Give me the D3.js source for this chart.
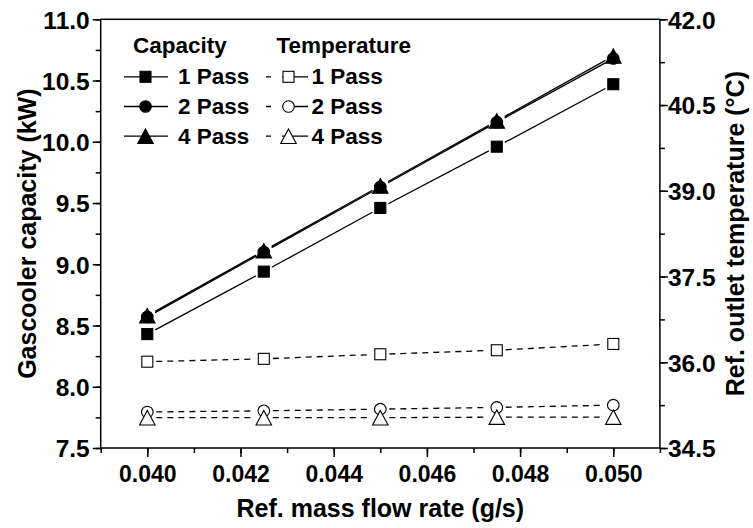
<!DOCTYPE html>
<html>
<head>
<meta charset="utf-8">
<script src="https://cdn.jsdelivr.net/npm/d3@7/dist/d3.min.js"></script>
<style>
  html, body { margin: 0; padding: 0; background: #fff; }
  svg { display: block; font-family: "Liberation Sans", Arial, sans-serif; font-weight: bold; }
</style>
</head>
<body>
<svg id="chart" width="753" height="528"></svg>
<script>
// Mass flow rate (g/s)
const flowRates = [0.040, 0.0425, 0.045, 0.0475, 0.050];

// Gas cooler capacity (kW) per pass configuration
const capacity1Pass = [8.43, 8.94, 9.46, 9.96, 10.47];
const capacity2Pass = [8.57, 9.10, 9.63, 10.16, 10.68];
const capacity4Pass = [8.58, 9.11, 9.64, 10.17, 10.70];

// Refrigerant outlet temperature (°C) per pass configuration
const temp1Pass = [36.01, 36.06, 36.14, 36.21, 36.32];
const temp2Pass = [35.13, 35.15, 35.18, 35.21, 35.25];
const temp4Pass = [35.03, 35.03, 35.03, 35.04, 35.04];

const xTicks = [0.040, 0.042, 0.044, 0.046, 0.048, 0.050];
const yLeftTicks = [7.5, 8.0, 8.5, 9.0, 9.5, 10.0, 10.5, 11.0];
const yRightTicks = [34.5, 36.0, 37.5, 39.0, 40.5, 42.0];

const legendCapacity = ["1 Pass", "2 Pass", "4 Pass"];
const legendTemperature = ["1 Pass", "2 Pass", "4 Pass"];

const svg = d3.select("#chart");
const plotLeft = 100.7, plotRight = 659.9, plotTop = 19.3, plotBottom = 448;

const x = d3.scaleLinear().domain([0.039, 0.051]).range([plotLeft, plotRight]);
const yL = d3.scaleLinear().domain([7.5, 11.0]).range([plotBottom, plotTop]);
const yR = d3.scaleLinear().domain([34.5, 42.0]).range([plotBottom, plotTop]);

const xTickFont = 23;
const yTickFont = 24.5;
const titleFont = 25;
const fontFamily = "Liberation Sans, Arial, sans-serif";

// Frame
svg.append("rect").attr("x", plotLeft).attr("y", plotTop)
  .attr("width", plotRight - plotLeft).attr("height", plotBottom - plotTop)
  .attr("fill", "none").attr("stroke", "#000").attr("stroke-width", 1.5);

function styleAxis(g, size) {
  g.selectAll(".domain").remove();
  g.selectAll("line").attr("stroke-width", 1.5);
  g.selectAll("text").attr("font-size", size).attr("font-family", fontFamily)
    .attr("font-weight", "bold").attr("fill", "#000");
}

// Bottom axis
const xAxis = svg.append("g").attr("transform", `translate(0,${plotBottom})`);
xAxis.call(d3.axisBottom(x).tickValues(d3.range(0, 13).map(i => 0.039 + i * 0.001)).tickSize(5).tickFormat(""));
xAxis.append("g").call(d3.axisBottom(x).tickValues(xTicks).tickSize(9).tickFormat(d3.format(".3f")));
styleAxis(xAxis, xTickFont);
xAxis.selectAll("text").attr("dy", null).attr("y", 34);

// Left axis
const yAxisL = svg.append("g").attr("transform", `translate(${plotLeft},0)`);
yAxisL.call(d3.axisLeft(yL).tickValues(d3.range(0, 15).map(i => 7.5 + i * 0.25)).tickSize(5).tickFormat(""));
yAxisL.append("g").call(d3.axisLeft(yL).tickValues(yLeftTicks).tickSize(8).tickFormat(d3.format(".1f")));
styleAxis(yAxisL, yTickFont);
yAxisL.selectAll("text").attr("x", -11).attr("dy", "0.36em");

// Right axis
const yAxisR = svg.append("g").attr("transform", `translate(${plotRight},0)`);
yAxisR.call(d3.axisRight(yR).tickValues(d3.range(0, 11).map(i => 34.5 + i * 0.75)).tickSize(5).tickFormat(""));
yAxisR.append("g").call(d3.axisRight(yR).tickValues(yRightTicks).tickSize(8).tickFormat(d3.format(".1f")));
styleAxis(yAxisR, yTickFont);
yAxisR.selectAll("text").attr("x", 8).attr("dy", "0.36em");

// Axis titles
svg.append("text").attr("x", (plotLeft + plotRight) / 2).attr("y", 516.5)
  .attr("text-anchor", "middle").attr("font-size", titleFont).text("Ref. mass flow rate (g/s)");
svg.append("text").attr("transform", `translate(36,${(plotTop + plotBottom) / 2}) rotate(-90)`)
  .attr("text-anchor", "middle").attr("font-size", titleFont).text("Gascooler capacity (kW)");
svg.append("text").attr("transform", `translate(744,${(plotTop + plotBottom) / 2}) rotate(-90)`)
  .attr("text-anchor", "middle").attr("font-size", titleFont).text("Ref. outlet temperature (°C)");

// Marker drawing
function marker(g, shape, cx, cy, filled) {
  const fill = filled ? "#000" : "#fff";
  if (shape === "square") {
    g.append("rect").attr("x", cx - 5.5).attr("y", cy - 5.5).attr("width", 11).attr("height", 11)
      .attr("fill", fill).attr("stroke", "#000").attr("stroke-width", 1.1);
  } else if (shape === "circle") {
    g.append("circle").attr("cx", cx).attr("cy", cy).attr("r", 5.8)
      .attr("fill", fill).attr("stroke", "#000").attr("stroke-width", 1.1);
  } else {
    const w = 15.5, h = 14.5;
    g.append("path").attr("d", `M${cx},${cy - h / 2}L${cx + w / 2},${cy + h / 2}L${cx - w / 2},${cy + h / 2}Z`)
      .attr("fill", fill).attr("stroke", "#000").attr("stroke-width", 1.1).attr("stroke-linejoin", "miter");
  }
}

// Connecting line segments, trimmed short of the markers
function connect(g, pts, dash, width) {
  const gap = 9;
  for (let i = 0; i < pts.length - 1; i++) {
    const [x1, y1] = pts[i], [x2, y2] = pts[i + 1];
    const dx = x2 - x1, dy = y2 - y1, len = Math.hypot(dx, dy);
    const ux = dx / len, uy = dy / len;
    g.append("line")
      .attr("x1", x1 + ux * gap).attr("y1", y1 + uy * gap)
      .attr("x2", x2 - ux * gap).attr("y2", y2 - uy * gap)
      .attr("stroke", "#000").attr("stroke-width", width)
      .attr("stroke-dasharray", dash || null);
  }
}

const series = [
  { values: capacity1Pass, scale: yL, shape: "square", filled: true, dash: null },
  { values: capacity2Pass, scale: yL, shape: "circle", filled: true, dash: null },
  { values: capacity4Pass, scale: yL, shape: "triangle", filled: true, dash: null },
  { values: temp1Pass, scale: yR, shape: "square", filled: false, dash: "6,5" },
  { values: temp2Pass, scale: yR, shape: "circle", filled: false, dash: "6,5" },
  { values: temp4Pass, scale: yR, shape: "triangle", filled: false, dash: "6,5" }
];

const plot = svg.append("g");
series.forEach(s => {
  const pts = flowRates.map((f, i) => [x(f), s.scale(s.values[i])]);
  connect(plot, pts, s.dash, 1.3);
});
series.forEach(s => {
  const g = plot.append("g");
  flowRates.forEach((f, i) => marker(g, s.shape, x(f), s.scale(s.values[i]), s.filled));
});

// Legend
const legend = svg.append("g");
const legendFont = 22.5;
legend.append("text").attr("x", 133).attr("y", 52.7).attr("font-size", legendFont).text("Capacity");
legend.append("text").attr("x", 276.5).attr("y", 52.7).attr("font-size", legendFont).text("Temperature");
const shapes = ["square", "circle", "triangle"];
const rowBase = [84.3, 114, 143.7];
legendCapacity.forEach((label, i) => {
  const yb = rowBase[i], ym = yb - 7.5;
  legend.append("line").attr("x1", 124).attr("x2", 168).attr("y1", ym).attr("y2", ym)
    .attr("stroke", "#000").attr("stroke-width", 1.3);
  marker(legend, shapes[i], 145.5, ym, true);
  legend.append("text").attr("x", 178).attr("y", yb).attr("font-size", legendFont).text(label);
});
legendTemperature.forEach((label, i) => {
  const yb = rowBase[i], ym = yb - 7.5;
  legend.append("line").attr("x1", 266).attr("x2", 308).attr("y1", ym).attr("y2", ym)
    .attr("stroke", "#000").attr("stroke-width", 1.3).attr("stroke-dasharray", "5,11,30,4,1");
  marker(legend, shapes[i], 288.5, ym, false);
  legend.append("text").attr("x", 311.5).attr("y", yb).attr("font-size", legendFont).text(label);
});
</script>
</body>
</html>
